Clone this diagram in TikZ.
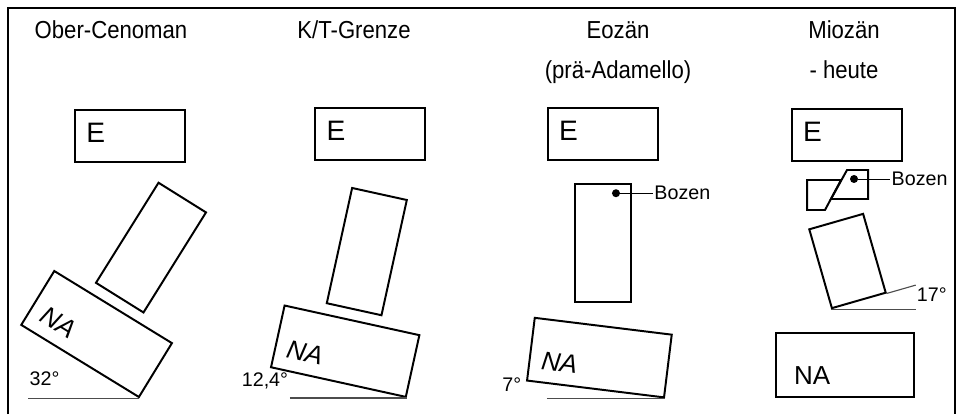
\documentclass[tikz,border=0pt]{standalone}
\usepackage{fontspec}
\setmainfont{Liberation Sans}
\newfontfamily\narrowfont{Liberation Sans}[FakeStretch=0.9]
\usepackage{tikz}
\tikzstyle{period} = [font=\narrowfont\fontsize{17.5}{20}\selectfont, inner sep=1pt, text height=0.44cm, text depth=0cm]
\tikzstyle{ebox} = [rectangle, draw=black, line width=1.4pt, minimum width=2.75cm, minimum height=1.3cm, text width=2.19cm, inner xsep=0.28cm, inner ysep=0pt, align=left, text height=0.5cm, text depth=0.2cm, font=\fontsize{20}{24}\selectfont]
\tikzstyle{block} = [rectangle, draw=black, line width=1.4pt, minimum width=1.4cm, minimum height=2.95cm]
\tikzstyle{nabox} = [rectangle, draw=black, line width=1.4pt, minimum width=3.45cm, minimum height=1.58cm, text width=2.85cm, inner xsep=0.3cm, inner ysep=0pt, align=left, text height=0.95cm, text depth=0cm, font=\fontsize{18.5}{22}\selectfont]
\tikzstyle{piece} = [draw=black, line width=1.4pt]
\tikzstyle{dot} = [circle, fill=black, inner sep=0pt, minimum size=0.2cm]
\tikzstyle{note} = [font=\fontsize{14}{16}\selectfont, inner sep=1pt]
\tikzstyle{leader} = [line width=0.5pt]
\tikzstyle{base} = [line width=0.8pt, black!70]
\tikzstyle{frame} = [line width=1.3pt]

\begin{document}
\begin{tikzpicture}[node distance=1cm]
			\useasboundingbox (0,0) rectangle (23.975,-10.35);
			\draw [frame] (0.2,-10.35) -- (0.2,-0.2) -- (23.875,-0.2) -- (23.875,-10.35);

			% titles
			\node (t1) [period] at (2.775,-0.75) {Ober-Cenoman};
			\node (t2) [period] at (8.85,-0.75) {K/T-Grenze};
			\node (t3) [period] at (15.45,-0.75) {Eozän};
			\node (t3b) [period, below of=t3] {(prä-Adamello)};
			\node (t4) [period] at (21.1,-0.75) {Miozän};
			\node (t4b) [period, below of=t4] {- heute};

			% Ober-Cenoman
			\node (e1) [ebox, below of=t1, xshift=0.48cm, yshift=-1.66cm] {E};
			\node (r1) [block, below of=e1, xshift=0.52cm, yshift=-1.78cm, rotate=-32] {};
			\node (na1) [nabox, below of=r1, xshift=-1.36cm, yshift=-1.16cm, rotate=-31.5] {\itshape NA};
			\coordinate (a1) at ([xshift=-2.78cm]na1.south east);
			\draw [base] (a1) -- (na1.south east);
			\node (w1) [note, anchor=base west] at ([yshift=0.33cm]a1) {32°};

			% K/T-Grenze
			\node (e2) [ebox, below of=t2, xshift=0.41cm, yshift=-1.6cm] {E};
			\node (r2) [block, below of=e2, xshift=-0.09cm, yshift=-1.94cm, rotate=-12.4] {};
			\node (na2) [nabox, below of=r2, xshift=-0.54cm, yshift=-1.49cm, rotate=-12.4] {\itshape NA};
			\coordinate (a2) at ([xshift=-2.92cm]na2.south east);
			\draw [base] (a2) -- (na2.south east);
			\node (w2) [note, anchor=base east] at ([yshift=0.28cm]a2) {12,4°};

			% Eozaen
			\node (e3) [ebox, below of=t3b, xshift=-0.375cm, yshift=-0.6cm] {E};
			\node (r3) [block, below of=e3, yshift=-1.73cm] {};
			\node (d3) [dot] at ([xshift=-0.4cm, yshift=-0.25cm]r3.north east) {};
			\node (bz3) [note, anchor=west] at ([xshift=0.92cm]d3.center) {Bozen};
			\draw [leader] (d3) -- (bz3);
			\node (na3) [nabox, below of=r3, xshift=-0.09cm, yshift=-1.86cm, rotate=-7] {\itshape NA};
			\coordinate (a3) at ([xshift=-2.95cm]na3.south east);
			\draw [base] (a3) -- (na3.south east);
			\node (w3) [note, anchor=base east] at ([xshift=-0.6cm, yshift=0.18cm]a3) {7°};

			% Miozaen - heute
			\node (e4) [ebox, below of=t4b, xshift=0.075cm, yshift=-0.625cm] {E};
			\coordinate (k4) at ([xshift=0.4cm, yshift=-1.2cm]e4.south west);
			\draw [piece] (k4) -- ++(0,0.75) -- ++(0.85,0) -- ++(-0.4,-0.75) -- cycle;
			\draw [piece] ([shift={(1.0,1.0)}]k4) -- ++(0.525,0) -- ++(0,-0.725) -- ++(-0.925,0) -- cycle;
			\node (d4) [dot] at ([shift={(1.175,0.775)}]k4) {};
			\node (bz4) [note, anchor=west] at ([xshift=0.9cm]d4.center) {Bozen};
			\draw [leader] (d4) -- (bz4);
			\node (r4) [block, minimum height=2.05cm, below of=e4, xshift=0.0125cm, yshift=-2.15cm, rotate=16] {};
			\coordinate (h4) at ([xshift=2.125cm]r4.south west);
			\coordinate (s4) at ([shift={(16:0.75cm)}]r4.south east);
			\draw [base] (r4.south west) -- (h4);
			\draw [base] (r4.south east) -- (s4);
			\node (w4) [note, anchor=base west] at ([xshift=-0.025cm, yshift=0.2cm]h4) {17°};
			\node (na4) [nabox, inner xsep=0.45cm, text width=2.55cm, below of=r4, xshift=-0.06cm, yshift=-1.6cm] {NA};
		\end{tikzpicture}
\end{document}
